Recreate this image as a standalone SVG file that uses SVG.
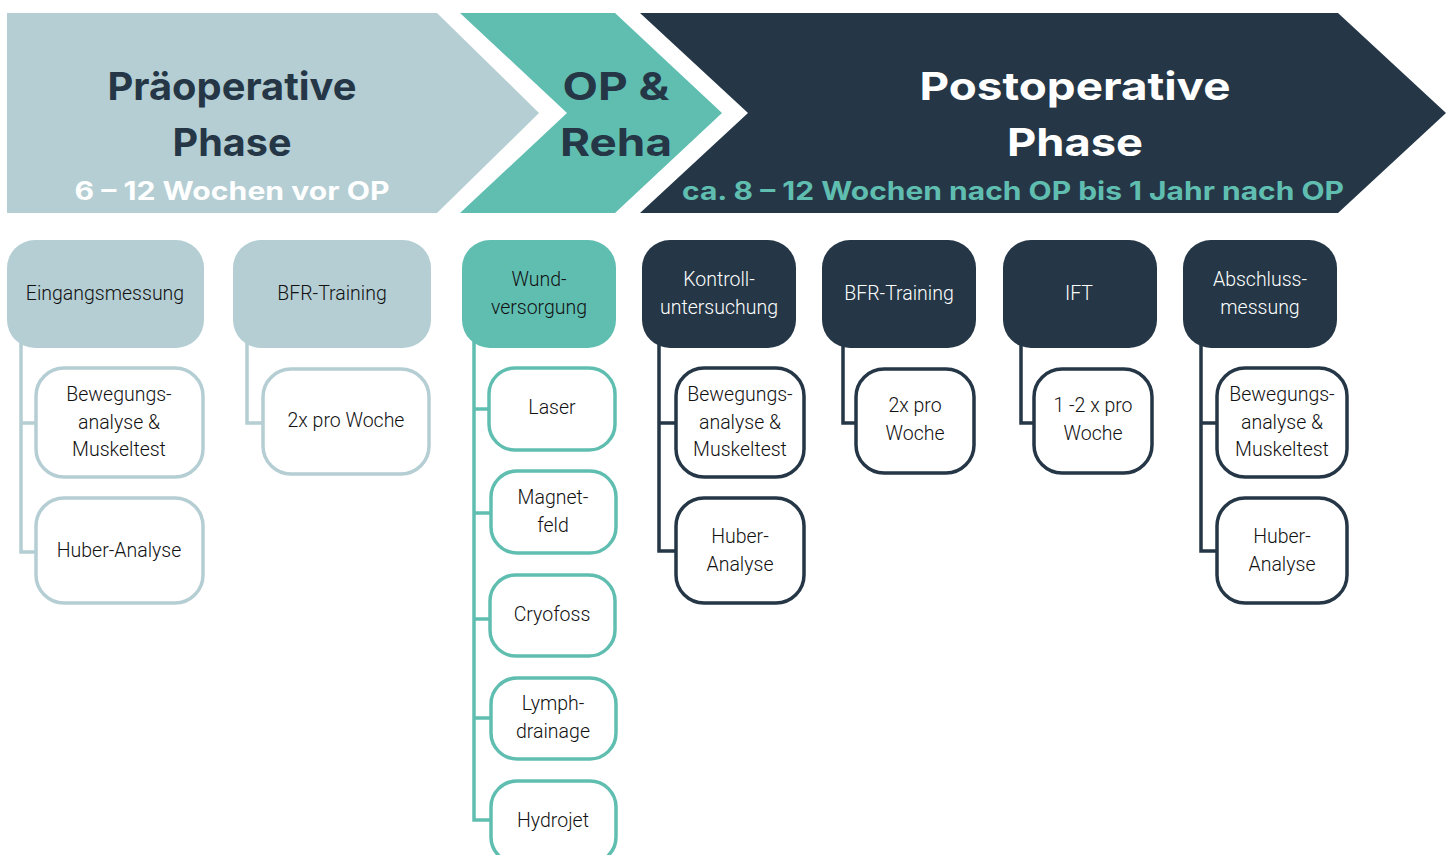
<svg xmlns="http://www.w3.org/2000/svg" width="1452" height="855" viewBox="0 0 1452 855">
<style>
.hd{font-family:Inter,"Open Sans","Liberation Sans",sans-serif;font-weight:700;text-anchor:middle}
.t{font-family:Roboto,"Liberation Sans",sans-serif;font-size:19.5px;font-weight:300;text-anchor:middle;fill:#111111}
.tw{fill:#ffffff}
.pl{fill:#B4CED4}
.pt{fill:#60BEB1}
.pn{fill:#253746}
.cl{fill:#fff;stroke:#B4CED4;stroke-width:3.5}
.ct{fill:#fff;stroke:#60BEB1;stroke-width:3.5}
.cn{fill:#fff;stroke:#253746;stroke-width:3.5}
.ln{fill:none;stroke-width:3.5}
</style>
<g id="header">
<polygon points="7,13 437,13 539,113 437,213 7,213" fill="#B4CED4"/>
<polygon points="460,13 615,13 722,113 615,213 460,213 567,113" fill="#60BEB1"/>
<polygon points="640,13 1338,13 1446,113 1338,213 640,213 748,113" fill="#253746"/>
<text class="hd" x="232" y="100" font-size="38" fill="#253746" textLength="249" lengthAdjust="spacingAndGlyphs">Präoperative</text>
<text class="hd" x="232" y="156" font-size="38" fill="#253746" textLength="119" lengthAdjust="spacingAndGlyphs">Phase</text>
<text class="hd" x="232" y="200" font-size="25" fill="#ffffff" textLength="315" lengthAdjust="spacingAndGlyphs">6 – 12 Wochen vor OP</text>
<text class="hd" x="616" y="100" font-size="38" fill="#253746" textLength="107" lengthAdjust="spacingAndGlyphs">OP &amp;</text>
<text class="hd" x="616" y="156" font-size="38" fill="#253746" textLength="112" lengthAdjust="spacingAndGlyphs">Reha</text>
<text class="hd" x="1075" y="100" font-size="38" fill="#ffffff" textLength="311" lengthAdjust="spacingAndGlyphs">Postoperative</text>
<text class="hd" x="1075" y="156" font-size="38" fill="#ffffff" textLength="136" lengthAdjust="spacingAndGlyphs">Phase</text>
<text class="hd" x="1013" y="200" font-size="25" fill="#60BEB1" textLength="662" lengthAdjust="spacingAndGlyphs">ca. 8 – 12 Wochen nach OP bis 1 Jahr nach OP</text>
</g>
<g id="connectors">
<path class="ln" stroke="#B4CED4" d="M21,340 V552 H36 M21,423 H36"/>
<path class="ln" stroke="#B4CED4" d="M247,340 V423 H263"/>
<path class="ln" stroke="#60BEB1" d="M474,340 V820 H490 M474,409 H488 M474,513 H490 M474,619 H489 M474,718 H490"/>
<path class="ln" stroke="#253746" d="M659,340 V551 H675 M659,423 H675"/>
<path class="ln" stroke="#253746" d="M843,340 V423 H855"/>
<path class="ln" stroke="#253746" d="M1021,340 V423 H1034"/>
<path class="ln" stroke="#253746" d="M1201,340 V551 H1217 M1201,423 H1217"/>
</g>
<g id="n-eingang"><rect class="pl" x="7" y="240" width="197" height="108" rx="28"/><text class="t" x="105" y="300">Eingangsmessung</text></g>
<g id="n-eingang-bew"><rect class="cl" x="36" y="368" width="167" height="109" rx="28"/><text class="t" x="119" y="401">Bewegungs-</text><text class="t" x="119" y="429">analyse &amp;</text><text class="t" x="119" y="456">Muskeltest</text></g>
<g id="n-eingang-hub"><rect class="cl" x="36" y="498" width="167" height="105" rx="28"/><text class="t" x="119" y="557">Huber-Analyse</text></g>
<g id="n-bfr1"><rect class="pl" x="233" y="240" width="198" height="108" rx="28"/><text class="t" x="332" y="300">BFR-Training</text></g>
<g id="n-bfr1-c"><rect class="cl" x="263" y="369" width="166" height="105" rx="28"/><text class="t" x="346" y="427">2x pro Woche</text></g>
<g id="n-wund"><rect class="pt" x="462" y="240" width="154" height="108" rx="28"/><text class="t" x="539" y="286">Wund-</text><text class="t" x="539" y="314">versorgung</text></g>
<g id="n-laser"><rect class="ct" x="489" y="368" width="126" height="82" rx="26"/><text class="t" x="552" y="414">Laser</text></g>
<g id="n-magnet"><rect class="ct" x="491" y="471" width="125" height="82" rx="26"/><text class="t" x="553" y="504">Magnet-</text><text class="t" x="553" y="532">feld</text></g>
<g id="n-cryo"><rect class="ct" x="490" y="575" width="125" height="81" rx="26"/><text class="t" x="552" y="621">Cryofoss</text></g>
<g id="n-lymph"><rect class="ct" x="491" y="678" width="125" height="81" rx="26"/><text class="t" x="553" y="710">Lymph-</text><text class="t" x="553" y="738">drainage</text></g>
<g id="n-hydro"><rect class="ct" x="491" y="781" width="125" height="82" rx="26"/><text class="t" x="553" y="827">Hydrojet</text></g>
<g id="n-kontroll"><rect class="pn" x="642" y="240" width="154" height="108" rx="28"/><text class="t tw" x="719" y="286">Kontroll-</text><text class="t tw" x="719" y="314">untersuchung</text></g>
<g id="n-kontroll-bew"><rect class="cn" x="676" y="368" width="128" height="109" rx="28"/><text class="t" x="740" y="401">Bewegungs-</text><text class="t" x="740" y="429">analyse &amp;</text><text class="t" x="740" y="456">Muskeltest</text></g>
<g id="n-kontroll-hub"><rect class="cn" x="676" y="498" width="128" height="105" rx="28"/><text class="t" x="740" y="543">Huber-</text><text class="t" x="740" y="571">Analyse</text></g>
<g id="n-bfr2"><rect class="pn" x="822" y="240" width="154" height="108" rx="28"/><text class="t tw" x="899" y="300">BFR-Training</text></g>
<g id="n-bfr2-c"><rect class="cn" x="856" y="369" width="118" height="104" rx="28"/><text class="t" x="915" y="412">2x pro</text><text class="t" x="915" y="440">Woche</text></g>
<g id="n-ift"><rect class="pn" x="1003" y="240" width="154" height="108" rx="28"/><text class="t tw" x="1079" y="300">IFT</text></g>
<g id="n-ift-c"><rect class="cn" x="1034" y="369" width="118" height="104" rx="28"/><text class="t" x="1093" y="412">1 -2 x pro</text><text class="t" x="1093" y="440">Woche</text></g>
<g id="n-abschluss"><rect class="pn" x="1183" y="240" width="154" height="108" rx="28"/><text class="t tw" x="1260" y="286">Abschluss-</text><text class="t tw" x="1260" y="314">messung</text></g>
<g id="n-abschluss-bew"><rect class="cn" x="1217" y="368" width="130" height="109" rx="28"/><text class="t" x="1282" y="401">Bewegungs-</text><text class="t" x="1282" y="429">analyse &amp;</text><text class="t" x="1282" y="456">Muskeltest</text></g>
<g id="n-abschluss-hub"><rect class="cn" x="1217" y="498" width="130" height="105" rx="28"/><text class="t" x="1282" y="543">Huber-</text><text class="t" x="1282" y="571">Analyse</text></g>
</svg>
